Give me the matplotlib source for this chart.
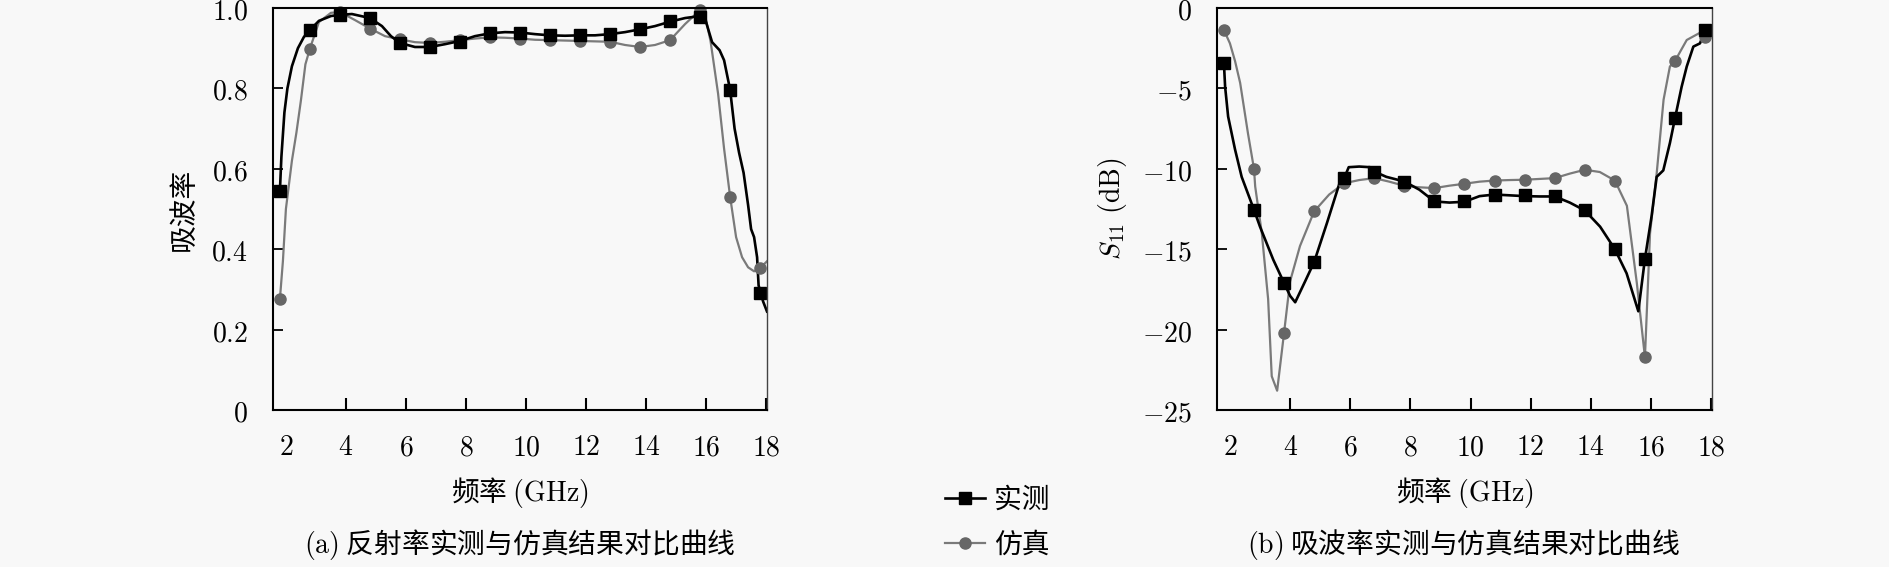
import numpy as np
import matplotlib
matplotlib.use('Agg')
import matplotlib.pyplot as plt
from matplotlib.lines import Line2D

plt.rcParams['font.family'] = ['Noto Sans CJK SC', 'DejaVu Sans']
plt.rcParams['mathtext.fontset'] = 'cm'
plt.rcParams['font.size'] = 20

# marker positions (GHz, as read against the tick scale)
freq = [1.8, 2.8, 3.8, 4.8, 5.8, 6.8, 7.8, 8.8, 9.8, 10.8, 11.8, 12.8, 13.8, 14.8, 15.8, 16.8, 17.8]

# (a) absorption, markers
abs_meas = [0.545, 0.945, 0.983, 0.974, 0.913, 0.903, 0.916, 0.937, 0.939, 0.932, 0.932, 0.935, 0.947, 0.968, 0.978, 0.797, 0.29]
abs_sim = [0.276, 0.899, 0.99, 0.949, 0.924, 0.913, 0.92, 0.927, 0.924, 0.92, 0.918, 0.916, 0.903, 0.92, 0.995, 0.531, 0.353]

# (a) absorption, traced curves
abs_meas_f = [1.8, 1.85, 1.95, 2.05, 2.2, 2.4, 2.6, 2.8, 3.1, 3.5, 3.8, 4.2, 4.8, 5.2, 5.5, 5.8, 6.3, 6.8, 7.3, 7.8,
              8.3, 8.8, 9.3, 9.8, 10.3, 10.8, 11.3, 11.8, 12.3, 12.8, 13.3, 13.8, 14.3, 14.8, 15.3, 15.8, 16.0,
              16.2, 16.45, 16.6, 16.8, 16.95, 17.1, 17.25, 17.4, 17.5, 17.6, 17.7, 17.75, 17.9, 18.03]
abs_meas_v = [0.545, 0.63, 0.74, 0.80, 0.855, 0.90, 0.928, 0.945, 0.968, 0.98, 0.983, 0.985, 0.975, 0.955, 0.93,
              0.913, 0.903, 0.903, 0.91, 0.918, 0.93, 0.937, 0.94, 0.939, 0.935, 0.932, 0.931, 0.932, 0.932, 0.935,
              0.94, 0.947, 0.955, 0.966, 0.975, 0.98, 0.965, 0.915, 0.895, 0.87, 0.797, 0.70, 0.64, 0.59, 0.51,
              0.45, 0.43, 0.38, 0.31, 0.27, 0.245]
abs_sim_f = [1.8, 1.9, 2.0, 2.2, 2.35, 2.5, 2.65, 2.8, 3.1, 3.5, 3.8, 4.3, 4.8, 5.3, 5.8, 6.3, 6.8, 7.3, 7.8, 8.3, 8.8,
             9.3, 9.8, 10.3, 10.8, 11.3, 11.8, 12.3, 12.8, 13.3, 13.8, 14.3, 14.8, 15.3, 15.8, 16.0, 16.15, 16.4,
             16.6, 16.8, 17.0, 17.2, 17.4, 17.6, 17.8, 18.03]
abs_sim_v = [0.276, 0.37, 0.50, 0.62, 0.69, 0.77, 0.86, 0.899, 0.965, 0.988, 0.99, 0.97, 0.949, 0.93, 0.922, 0.915,
             0.913, 0.916, 0.92, 0.924, 0.927, 0.926, 0.924, 0.921, 0.92, 0.919, 0.918, 0.917, 0.916, 0.908, 0.903,
             0.908, 0.92, 0.96, 0.995, 0.97, 0.917, 0.787, 0.65, 0.531, 0.43, 0.38, 0.355, 0.345, 0.353, 0.37]

# (b) S11, markers
s11_meas = [-3.44, -12.55, -17.1, -15.8, -10.58, -10.17, -10.79, -12.03, -12.03, -11.6, -11.65, -11.72, -12.59, -15.0, -15.6, -6.85, -1.37]
s11_sim = [-1.37, -10.0, -20.2, -12.65, -10.9, -10.58, -11.06, -11.2, -10.93, -10.73, -10.68, -10.58, -10.06, -10.73, -21.72, -3.29, -1.78]

# (b) S11, traced curves
s11_meas_f = [1.8, 1.84, 1.94, 2.17, 2.39, 2.8, 3.0, 3.44, 3.8, 4.0, 4.17, 4.5, 4.8, 5.23, 5.66, 5.8, 5.95, 6.3, 6.66,
              6.8, 7.2, 7.8, 8.3, 8.8, 9.3, 9.8, 10.3, 10.8, 11.3, 11.8, 12.3, 12.8, 13.3, 13.8, 14.31, 14.8, 15.19,
              15.58, 15.8, 16.02, 16.19, 16.41, 16.63, 16.8, 17.02, 17.19, 17.41, 17.63, 17.8]
s11_meas_v = [-3.44, -4.9, -6.75, -8.8, -10.5, -12.55, -13.6, -15.65, -17.1, -17.9, -18.3, -17.0, -15.8, -13.35,
              -10.8, -10.58, -9.9, -9.86, -9.9, -10.17, -10.5, -10.79, -11.3, -12.03, -12.1, -12.05, -11.7, -11.6,
              -11.65, -11.7, -11.72, -11.72, -12.1, -12.59, -13.6, -15.0, -16.5, -18.86, -15.6, -12.96, -10.5,
              -10.1, -8.4, -6.85, -4.9, -3.64, -2.4, -2.2, -1.37]
s11_sim_f = [1.8, 2.0, 2.17, 2.34, 2.6, 2.8, 2.84, 3.06, 3.27, 3.39, 3.57, 3.8, 4.0, 4.33, 4.8, 5.3, 5.8, 6.3, 6.8, 7.3,
             7.8, 8.3, 8.8, 9.3, 9.8, 10.3, 10.8, 11.3, 11.8, 12.3, 12.8, 13.3, 13.8, 14.3, 14.8, 15.2, 15.53, 15.8,
             15.97, 16.19, 16.42, 16.63, 16.8, 17.19, 17.62, 17.8]
s11_sim_v = [-1.37, -2.2, -3.3, -4.66, -7.8, -10.0, -11.1, -14.0, -18.1, -22.9, -23.8, -20.2, -17.0, -14.8, -12.65,
             -11.6, -10.9, -10.7, -10.58, -10.8, -11.06, -11.15, -11.2, -11.05, -10.93, -10.8, -10.73, -10.7,
             -10.68, -10.63, -10.58, -10.3, -10.06, -10.2, -10.73, -12.3, -17.1, -21.72, -14.0, -10.3, -5.7, -3.64,
             -3.29, -1.99, -1.55, -1.78]

xticks = [2, 4, 6, 8, 10, 12, 14, 16, 18]
abs_ticks = [0, 0.2, 0.4, 0.6, 0.8, 1.0]
abs_ticklabels = ['0', '0.2', '0.4', '0.6', '0.8', '1.0']
s11_ticks = [0, -5, -10, -15, -20, -25]

bg = '#f8f8f8'
meas_color = 'black'
sim_line = '#7a7a7a'
sim_mark = '#666666'

fig = plt.figure(figsize=(18.9, 5.67), dpi=100, facecolor=bg)
W, H = 1890, 567
ax1 = fig.add_axes([273 / W, 1 - 410 / H, 494 / W, 402 / H], facecolor=bg)
ax2 = fig.add_axes([1217 / W, 1 - 410 / H, 495 / W, 402 / H], facecolor=bg)


def style(ax):
    ax.set_xlim(1.57, 18.03)
    ax.set_xticks(xticks)
    ax.set_xticklabels([r'$%d$' % t for t in xticks])
    ax.tick_params(axis='x', direction='in', length=9, width=1.5, pad=16, top=False)
    ax.tick_params(axis='y', direction='in', length=7, width=1.3, pad=18, right=False)
    ax.xaxis.get_major_ticks()[0].tick1line.set_visible(False)
    for s in ax.spines.values():
        s.set_linewidth(1.5)
        s.set_color('black')
    ax.spines['right'].set_linewidth(1.0)
    ax.spines['right'].set_color('#444444')
    ax.set_xlabel(r'频率 $\mathrm{(GHz)}$', va='center')
    ax.xaxis.set_label_coords(0.5, -0.204)


# (a)
ax1.plot(abs_sim_f, abs_sim_v, color=sim_line, lw=1.6)
ax1.plot(abs_meas_f, abs_meas_v, color=meas_color, lw=1.9)
ax1.plot(freq, abs_sim, 'o', color=sim_mark, ms=8, clip_on=False)
ax1.plot(freq, abs_meas, 's', color=meas_color, ms=8.5, clip_on=False)
ax1.set_ylim(0, 1.0)
ax1.set_yticks(abs_ticks)
ax1.set_yticklabels([r'$%s$' % t for t in abs_ticklabels])
style(ax1)
ax1.set_ylabel('吸波率', va='center', ha='center')
ax1.yaxis.set_label_coords(-0.18, 0.5)

# (b)
ax2.plot(s11_sim_f, s11_sim_v, color=sim_line, lw=1.6)
ax2.plot(s11_meas_f, s11_meas_v, color=meas_color, lw=1.9)
ax2.plot(freq, s11_sim, 'o', color=sim_mark, ms=8, clip_on=False)
ax2.plot(freq, s11_meas, 's', color=meas_color, ms=8.5, clip_on=False)
ax2.set_ylim(-25, 0)
ax2.set_yticks(s11_ticks)
ax2.set_yticklabels([r'$%d$' % t for t in s11_ticks])
style(ax2)
ax2.set_ylabel(r'$S_{11}\ \mathrm{(dB)}$', va='center', ha='center')
ax2.yaxis.set_label_coords(-0.212, 0.5)

# captions
fig.text(520 / W, 1 - 545 / H, r'$\mathrm{(a)}$ 反射率实测与仿真结果对比曲线', ha='center', va='center')
fig.text(1464 / W, 1 - 545 / H, r'$\mathrm{(b)}$ 吸波率实测与仿真结果对比曲线', ha='center', va='center')

# shared legend between the panels
handles = [Line2D([], [], color=meas_color, lw=1.9, marker='s', ms=8.5),
           Line2D([], [], color=sim_line, lw=1.6, marker='o', ms=8, markerfacecolor=sim_mark, markeredgecolor=sim_mark)]
fig.legend(handles, ['实测', '仿真'], loc='center left', bbox_to_anchor=(945 / W, 1 - 522 / H),
           frameon=False, handlelength=1.45, handletextpad=0.3, labelspacing=0.55, borderpad=0, borderaxespad=0)

fig.savefig('out.png', dpi=100, facecolor=bg)
